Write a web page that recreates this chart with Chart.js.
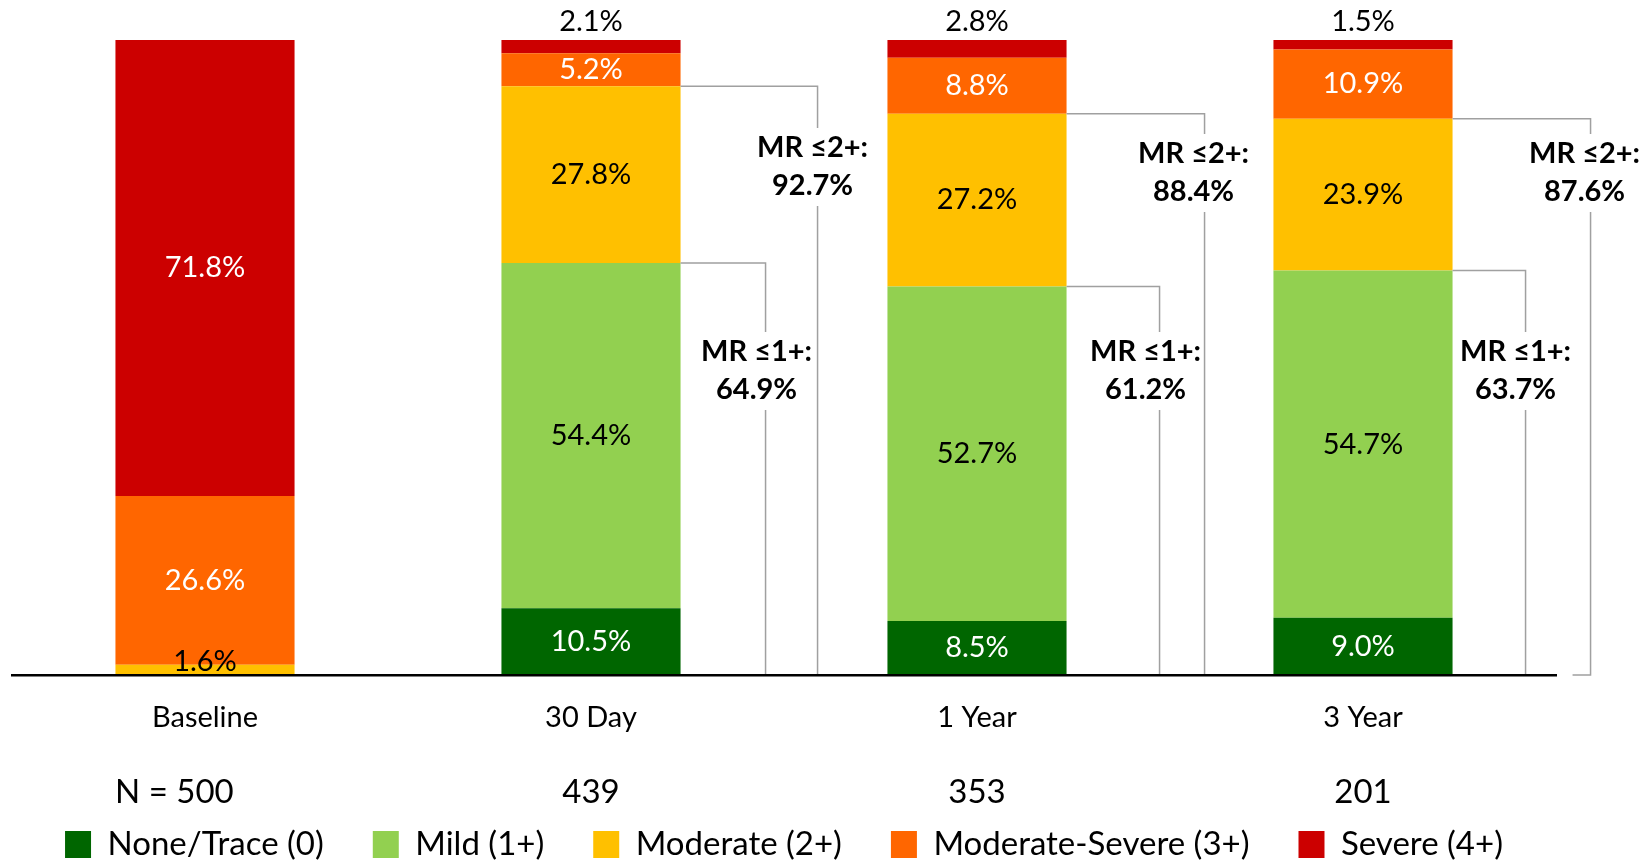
<!DOCTYPE html>
<html>
<head>
<meta charset="utf-8">
<script src="https://cdn.jsdelivr.net/npm/chart.js@4.4.0/dist/chart.umd.min.js"></script>
<style>
  html, body { margin: 0; padding: 0; background: #fff; }
  #wrap { width: 1644px; height: 865px; position: relative; }
</style>
</head>
<body>
<div id="wrap"><canvas id="myChart"></canvas></div>
<script>
// categories and N per visit
var categories = ['Baseline', '30 Day', '1 Year', '3 Year'];
var sampleSizes = ['500', '439', '353', '201'];

// MR grade distribution (%), bottom to top
var noneTrace = [0, 10.5, 8.5, 9.0];
var mild = [0, 54.4, 52.7, 54.7];
var moderate = [1.6, 27.8, 27.2, 23.9];
var modSevere = [26.6, 5.2, 8.8, 10.9];
var severe = [71.8, 2.1, 2.8, 1.5];

// bracket totals
var mrLe1 = [null, 64.9, 61.2, 63.7];
var mrLe2 = [null, 92.7, 88.4, 87.6];

var FONT = 'Lato, "Open Sans", sans-serif';

// labels inside / above each segment
var segLabels = {
    id: 'segLabels',
    afterDatasetsDraw: function (chart) {
        var ctx = chart.ctx;
        ctx.save();
        ctx.font = '29px ' + FONT;
        ctx.textAlign = 'center';
        ctx.textBaseline = 'middle';
        chart.data.datasets.forEach(function (ds, i) {
            var meta = chart.getDatasetMeta(i);
            meta.data.forEach(function (bar, j) {
                var v = ds.data[j];
                if (!v) return;
                var y = (bar.y + bar.base) / 2;
                var color = ds.labelColor;
                if (i === 4 && v < 5) { y = bar.y - 18; color = '#000'; }
                else if (v < 3) { y = bar.base - 13; }
                ctx.fillStyle = color;
                ctx.fillText(v.toFixed(1) + '%', bar.x, y);
            });
        });
        ctx.restore();
    }
};

// MR <=2+ / <=1+ brackets to the right of each follow-up bar
var brackets = {
    id: 'brackets',
    afterDatasetsDraw: function (chart) {
        var ctx = chart.ctx, area = chart.chartArea, yScale = chart.scales.y;
        var meta = chart.getDatasetMeta(0);
        var sets = [
            { vals: mrLe2, name: 'MR \u22642+:', off: [0, 137, 138, 138], shift: [0, -5, -11, -6], top: [0, 108, 114, 114] },
            { vals: mrLe1, name: 'MR \u22641+:', off: [0, 85, 93, 73], shift: [0, -9, -14, -10], top: [0, 312, 312, 312] }
        ];
        ctx.save();
        sets.forEach(function (s) {
            for (var j = 0; j < categories.length; j++) {
                if (s.vals[j] == null) continue;
                var bar = meta.data[j];
                var right = bar.x + bar.width / 2;
                var vx = right + s.off[j];
                var hy = yScale.getPixelForValue(s.vals[j]);
                var t1 = area.top + s.top[j], t2 = t1 + 38;
                ctx.strokeStyle = '#a0a0a0';
                ctx.lineWidth = 1.5;
                ctx.beginPath();
                ctx.moveTo(right, hy);
                ctx.lineTo(vx, hy);
                ctx.lineTo(vx, t1 - 20);
                ctx.moveTo(vx, t2 + 20);
                ctx.lineTo(vx, area.bottom);
                ctx.lineTo(vx - 18, area.bottom);
                ctx.stroke();
                ctx.fillStyle = '#000';
                ctx.font = 'bold 29px ' + FONT;
                ctx.textAlign = 'center';
                ctx.textBaseline = 'middle';
                ctx.fillText(s.name, vx + s.shift[j], t1);
                ctx.fillText(s.vals[j].toFixed(1) + '%', vx + s.shift[j], t2);
            }
        });
        ctx.restore();
    }
};

// N = row under the category labels
var nRow = {
    id: 'nRow',
    afterDraw: function (chart) {
        var ctx = chart.ctx, xScale = chart.scales.x, area = chart.chartArea;
        ctx.save();
        ctx.font = '33px ' + FONT;
        ctx.fillStyle = '#000';
        ctx.textBaseline = 'middle';
        var y = area.bottom + 117;
        sampleSizes.forEach(function (n, j) {
            var cx = xScale.getPixelForValue(j);
            ctx.textAlign = 'center';
            ctx.fillText(n, cx, y);
            if (j === 0) {
                ctx.textAlign = 'right';
                ctx.fillText('N = ', cx - ctx.measureText(n).width / 2, y);
            }
        });
        ctx.restore();
    }
};

function makeSet(label, data, color, labelColor) {
    return {
        label: label,
        data: data,
        backgroundColor: color,
        borderWidth: 0,
        labelColor: labelColor,
        barPercentage: 0.464,
        categoryPercentage: 1.0
    };
}

var ctx = document.getElementById('myChart').getContext('2d');
var myChart = new Chart(ctx, {
    type: 'bar',
    data: {
        labels: categories,
        datasets: [
            makeSet('None/Trace (0)', noneTrace, '#006600', '#fff'),
            makeSet('Mild (1+)', mild, '#92d050', '#000'),
            makeSet('Moderate (2+)', moderate, '#ffc000', '#000'),
            makeSet('Moderate-Severe (3+)', modSevere, '#ff6600', '#fff'),
            makeSet('Severe (4+)', severe, '#cc0000', '#fff')
        ]
    },
    options: {
        responsive: true,
        maintainAspectRatio: false,
        animation: false,
        layout: { padding: { left: 12, right: 88, top: 40, bottom: -6 } },
        plugins: {
            legend: {
                position: 'bottom',
                labels: {
                    boxWidth: 26,
                    boxHeight: 27,
                    padding: 49,
                    color: '#000',
                    font: { family: FONT, size: 33, lineHeight: 1 }
                }
            },
            tooltip: { enabled: false }
        },
        scales: {
            x: {
                stacked: true,
                grid: { display: false, drawTicks: false },
                border: { display: true, color: '#000', width: 2.5, z: 1 },
                ticks: { color: '#000', padding: 25, font: { family: FONT, size: 29 } },
                afterFit: function (scale) { scale.height = 104; }
            },
            y: {
                stacked: true,
                display: false,
                min: 0,
                max: 100
            }
        }
    },
    plugins: [segLabels, brackets, nRow]
});
</script>
</body>
</html>
